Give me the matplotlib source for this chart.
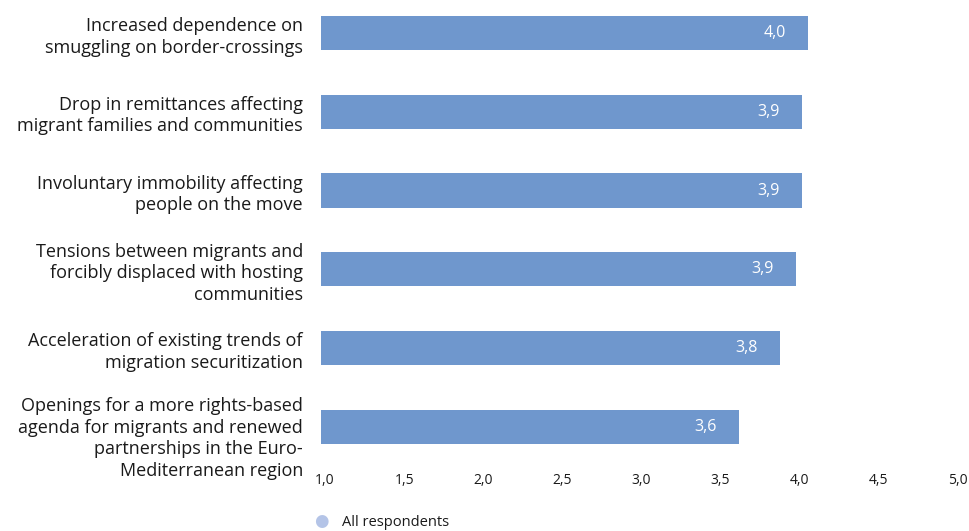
import matplotlib
matplotlib.use("Agg")
import matplotlib.pyplot as plt
import matplotlib.transforms as mtransforms
import numpy as np

plt.rcParams['font.family'] = ['Open Sans', 'DejaVu Sans']

categories = [
    "Increased dependence on\nsmuggling on border-crossings",
    "Drop in remittances affecting\nmigrant families and communities",
    "Involuntary immobility affecting\npeople on the move",
    "Tensions between migrants and\nforcibly displaced with hosting\ncommunities",
    "Acceleration of existing trends of\nmigration securitization",
    "Openings for a more rights-based\nagenda for migrants and renewed\npartnerships in the Euro-\nMediterranean region",
]
values = [4.08, 4.04, 4.04, 4.00, 3.90, 3.64]
value_labels = ["4,0", "3,9", "3,9", "3,9", "3,8", "3,6"]
xticks = [1.0, 1.5, 2.0, 2.5, 3.0, 3.5, 4.0, 4.5, 5.0]
xtick_labels = ["1,0", "1,5", "2,0", "2,5", "3,0", "3,5", "4,0", "4,5", "5,0"]
series_name = "All respondents"

bar_color = "#6f97cd"
legend_color = "#b4c4e7"

fig = plt.figure(figsize=(9.69, 5.31), dpi=100)
ax = fig.add_axes([0.3313, 0.122, 0.6532, 0.878])

y = np.arange(len(categories))
base = 1.0
ax.barh(y, np.array(values) - base, left=base, height=0.434, color=bar_color)

ax.set_xlim(1.0, 5.0)
ax.set_ylim(5.5, -0.42)

# value labels inside bar ends
off = mtransforms.offset_copy(ax.transData, fig=fig, x=-22, y=0, units='dots')
for yi, v, lab in zip(y, values, value_labels):
    ax.text(v, yi, lab, transform=off, ha='right', va='center',
            color='white', fontsize=11.5)

ax.set_yticks(y)
ax.set_yticklabels(categories, fontsize=13, linespacing=1.25, color='#1a1a1a')
ax.tick_params(axis='y', length=0, pad=13)
# long last label sits a bit lower in the original
down = mtransforms.ScaledTranslation(0, -8 / 100, fig.dpi_scale_trans)
last = ax.get_yticklabels()[-1]
last.set_transform(last.get_transform() + down)

ax.set_xticks(xticks)
ax.set_xticklabels(xtick_labels, fontsize=10, color='#1a1a1a')
ax.tick_params(axis='x', length=0, pad=5)
shift = mtransforms.ScaledTranslation(4 / 100, 0, fig.dpi_scale_trans)
for t in ax.get_xticklabels():
    t.set_transform(t.get_transform() + shift)

for spine in ax.spines.values():
    spine.set_visible(False)

# legend at bottom
fig.text(321 / 969, 1 - 522 / 531, "\u25cf", color=legend_color, fontsize=12,
         ha='center', va='center')
fig.text(342 / 969, 1 - 522 / 531, series_name, fontsize=10.5, color='#1a1a1a',
         ha='left', va='center')

fig.savefig("out.png", dpi=100)
